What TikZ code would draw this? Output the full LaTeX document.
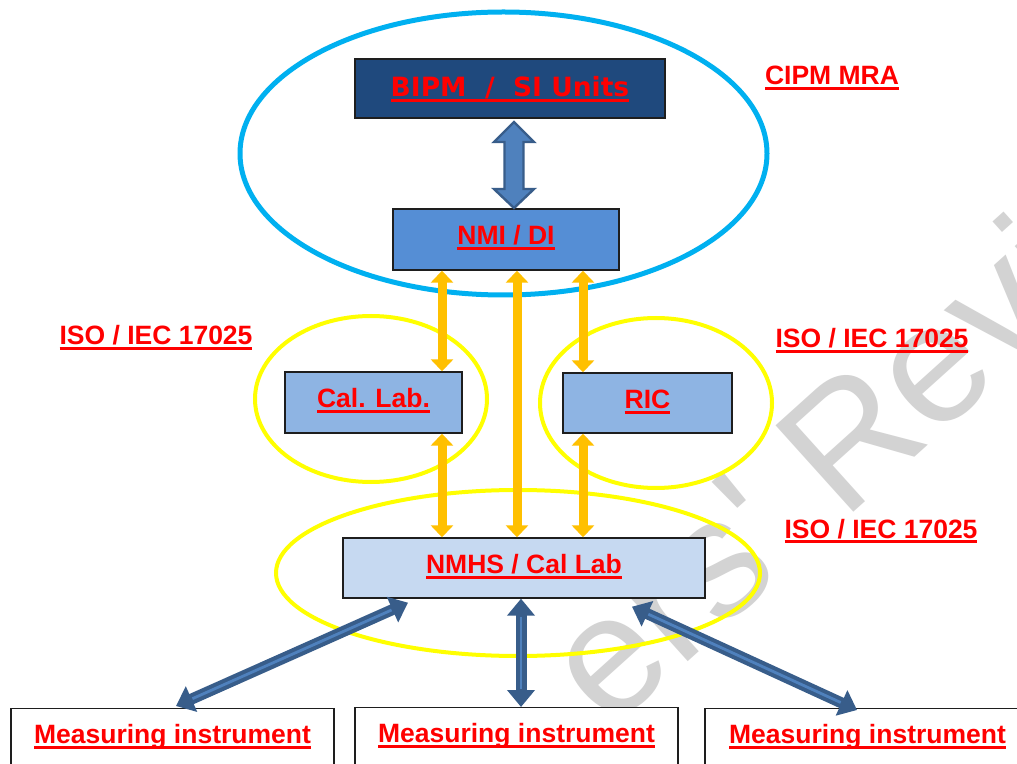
\documentclass[tikz,border=0pt]{standalone}
\usepackage{fontspec}
\setmainfont{Liberation Sans}
\newfontfamily\dejavu{DejaVu Sans}
\newfontfamily\wmfont{Liberation Sans}
\usetikzlibrary{arrows.meta,calc}
\definecolor{cyanE}{RGB}{0,176,240}
\definecolor{yelE}{RGB}{255,255,0}
\definecolor{orangeA}{RGB}{255,192,0}
\definecolor{darkB}{RGB}{56,93,138}
\definecolor{lightB}{RGB}{79,129,189}
\definecolor{bipmF}{RGB}{31,73,125}
\definecolor{nmiF}{RGB}{85,142,213}
\definecolor{calF}{RGB}{142,180,227}
\definecolor{nmhsF}{RGB}{198,217,241}
\definecolor{wmC}{RGB}{211,211,211}
\definecolor{edgeC}{RGB}{30,30,30}
\newsavebox\ulb
\newcommand\ulred[1]{\sbox\ulb{#1}\rlap{\rule[-2.6pt]{\wd\ulb}{1.5pt}}\usebox\ulb}
\tikzset{
  lbl/.style={font=\fontsize{13.25pt}{16pt}\selectfont\bfseries, text=red, inner sep=0pt},
  boxn/.style={draw=edgeC, line width=0.7pt, inner sep=0pt, text height=9.5pt, text depth=4pt,
     font=\fontsize{13.25pt}{16pt}\selectfont\bfseries, text=red},
  botbox/.style={draw=edgeC, line width=0.7pt, fill=white, inner sep=0pt, anchor=north,
     text height=17.5pt, text depth=35pt, minimum width=#1,
     font=\fontsize{13.25pt}{16pt}\selectfont\bfseries, text=red},
  orangearr/.style={draw=orangeA, line width=4.5pt,
     {Triangle[length=6pt,width=11pt]}-{Triangle[length=6pt,width=11pt]}},
  bluearr/.style={draw=darkB, line width=5.5pt,
     {Triangle[length=8.5pt,width=13.5pt]}-{Triangle[length=8.5pt,width=13.5pt]}},
  bluein/.style={draw=lightB, line width=1.4pt, shorten <=9pt, shorten >=9pt},
  wm/.style={font=\wmfont\fontsize{84.5pt}{84.5pt}\selectfont, text=wmC, inner sep=0pt, rotate=42},
  ringC/.style={draw=cyanE, line width=2.5pt},
  ringY/.style={draw=yelE, line width=2pt}
}
\newcommand\bluelink[2]{\draw[bluearr] #1 -- #2; \draw[bluein] #1 -- #2;}
\begin{document}
\begin{tikzpicture}[x=0.5pt,y=-0.5pt]
\useasboundingbox (0,0) rectangle (1017,764);
\fill[white] (0,0) rectangle (1017,764);
% watermark
\coordinate (wmR) at (843,522);
\node[wm, anchor=base west] (wm2) at (wmR) {Review};
\node[wm, anchor=base east] (wm1) at ($(wmR)+(-35,31)$) {ers'};
% rings
\draw[ringC] (503.5,153.5) ellipse [x radius=263.5, y radius=141.5];
\draw[ringY] (371,399) ellipse [x radius=116, y radius=83];
\draw[ringY] (656,403) ellipse [x radius=116, y radius=85];
\draw[ringY] (518,573) ellipse [x radius=242, y radius=83];
% boxes
\node[boxn, fill=bipmF, minimum width=155pt, minimum height=29.5pt, text depth=1pt] (bipm) at (510,88.5)
  {\dejavu\bfseries\ulred{BIPM\ \ /\ \ SI Units}};
\node[boxn, fill=nmiF, minimum width=113pt, minimum height=30.5pt] (nmi) at (506,239.5) {\ulred{NMI / DI}};
\node[boxn, fill=calF, minimum width=88.5pt, minimum height=30.5pt] (cal) at (373.5,402.5) {\ulred{Cal. Lab.}};
\node[boxn, fill=calF, minimum width=84.5pt, minimum height=30pt] (ric) at (647.5,403) {\ulred{RIC}};
\node[boxn, fill=nmhsF, minimum width=181pt, minimum height=30pt] (nmhs) at (524,568) {\ulred{NMHS / Cal Lab}};
\node[botbox=161.5pt] (m1) at (172.5,708) {\ulred{Measuring instrument}};
\node[botbox=161.5pt] (m2) at (516.5,707) {\ulred{Measuring instrument}};
\node[botbox=162.5pt] (m3) at (867.5,708) {\ulred{Measuring instrument}};
% labels
\node[lbl, anchor=base] (cipm) at (832,85) {\ulred{CIPM MRA}};
\node[lbl, anchor=base] (isoL) at (156,345) {\ulred{ISO / IEC 17025}};
\node[lbl, anchor=base] (isoR) at (872,348) {\ulred{ISO / IEC 17025}};
\node[lbl, anchor=base] (isoB) at (881,538) {\ulred{ISO / IEC 17025}};
% BIPM - NMI block arrow
\coordinate (ba) at (514,122);
\coordinate (bb) at (514,208);
\filldraw[fill=lightB, draw=darkB, line width=1.2pt, line join=miter]
  (ba) -- ($(ba)+(20,20)$) -- ($(ba)+(9.5,20)$) -- ($(bb)+(9.5,-19)$) -- ($(bb)+(20,-19)$)
  -- (bb) -- ($(bb)+(-20,-19)$) -- ($(bb)+(-9.5,-19)$) -- ($(ba)+(-9.5,20)$) -- ($(ba)+(-20,20)$) -- cycle;
% orange arrows
\draw[orangearr] (442,0 |- nmi.south) -- (442,0 |- cal.north);
\draw[orangearr] (517,0 |- nmi.south) -- (517,0 |- nmhs.north);
\draw[orangearr] (583,0 |- nmi.south) -- (583,0 |- ric.north);
\draw[orangearr] (442,0 |- cal.south) -- (442,0 |- nmhs.north);
\draw[orangearr] (583,0 |- ric.south) -- (583,0 |- nmhs.north);
% blue arrows to instruments
\bluelink{($(nmhs.south)+(-116,4)$)}{($(m1.north)+(3.5,-2)$)}
\bluelink{(521,0 |- nmhs.south)}{(521,0 |- m2.north)}
\bluelink{($(nmhs.south)+(108,8)$)}{($(m3.north)+(-10.5,2)$)}
\end{tikzpicture}
\end{document}
